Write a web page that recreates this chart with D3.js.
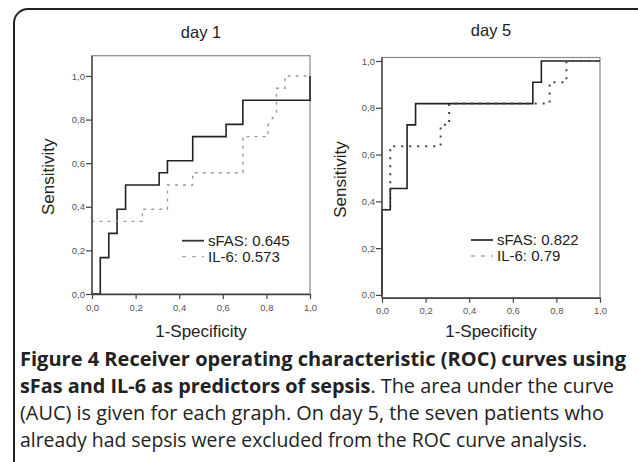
<!DOCTYPE html>
<html><head><meta charset="utf-8">
<script src="https://cdn.jsdelivr.net/npm/d3@7"></script>
<style>body{margin:0;background:#fff}svg{display:block}</style>
</head><body>
<svg id="c" width="638" height="462"></svg>
<script>
// ---- data ----
const xTicks = [0, 0.2, 0.4, 0.6, 0.8, 1.0];
const yTicks = [0, 0.2, 0.4, 0.6, 0.8, 1.0];
const panelTitles = ["day 1", "day 5"];
const seriesNames = ["sFAS", "IL-6"];
const aucDay1 = ["0.645", "0.573"];
const aucDay5 = ["0.822", "0.79"];
const xLabel = "1-Specificity";
const yLabel = "Sensitivity";

const day1SfasFpr = [0, 0.038, 0.038, 0.077, 0.077, 0.115, 0.115, 0.154, 0.154, 0.308, 0.308, 0.346, 0.346, 0.462, 0.462, 0.615, 0.615, 0.692, 0.692, 1, 1];
const day1SfasTpr = [0, 0, 0.167, 0.167, 0.278, 0.278, 0.389, 0.389, 0.5, 0.5, 0.556, 0.556, 0.611, 0.611, 0.722, 0.722, 0.778, 0.778, 0.889, 0.889, 1];
const day1Il6Fpr = [0, 0, 0.231, 0.231, 0.346, 0.346, 0.462, 0.462, 0.692, 0.692, 0.808, 0.808, 0.846, 0.846, 0.885, 0.885, 1];
const day1Il6Tpr = [0, 0.333, 0.333, 0.389, 0.389, 0.5, 0.5, 0.556, 0.556, 0.722, 0.722, 0.778, 0.833, 0.944, 0.944, 1, 1];
const day5SfasFpr = [0, 0, 0.038, 0.038, 0.115, 0.115, 0.154, 0.154, 0.692, 0.692, 0.731, 0.731, 1];
const day5SfasTpr = [0, 0.364, 0.364, 0.455, 0.455, 0.727, 0.727, 0.818, 0.818, 0.909, 0.909, 1, 1];
const day5Il6Fpr = [0, 0, 0.038, 0.038, 0.269, 0.269, 0.308, 0.308, 0.769, 0.769, 0.846, 0.846, 1];
const day5Il6Tpr = [0, 0.364, 0.364, 0.636, 0.636, 0.727, 0.727, 0.818, 0.818, 0.909, 0.909, 1, 1];

const captionLines = [
  [{t: "Figure 4 Receiver operating characteristic (ROC) curves using", b: true}],
  [{t: "sFas and IL-6 as predictors of sepsis", b: true}, {t: ". The area under the curve", b: false}],
  [{t: "(AUC) is given for each graph. On day 5, the seven patients who", b: false}],
  [{t: "already had sepsis were excluded from the ROC curve analysis.", b: false}]
];

// ---- layout ----
const svg = d3.select("#c");
const FONT = "'Liberation Sans', Arial, sans-serif";
const CAPFONT = "'Open Sans', 'Noto Sans', sans-serif";
const captionWidths = [606, 594, 584, 567];

svg.append("rect").attr("x", 14).attr("y", 9).attr("width", 640).attr("height", 520)
  .attr("rx", 14).attr("fill", "none").attr("stroke", "#222").attr("stroke-width", 2);

const panels = [
  {left: 92, right: 310, top: 55.7, bottom: 294, yDom: [0, 1.093], titleY: 37.5,
   yLabX: 54, tickLabY: 311, auc: aucDay1,
   series: [
     {fpr: day1SfasFpr, tpr: day1SfasTpr, stroke: "#222", w: 1.6, dash: null},
     {fpr: day1Il6Fpr, tpr: day1Il6Tpr, stroke: "#9a9a9a", w: 1.4, dash: "3,5"}
   ], legX: 182, legY: 240.7},
  {left: 382, right: 600, top: 57.5, bottom: 297.7, yDom: [-0.012, 1.015], titleY: 36,
   yLabX: 346, tickLabY: 314, auc: aucDay5,
   series: [
     {fpr: day5SfasFpr, tpr: day5SfasTpr, stroke: "#222", w: 1.6, dash: null},
     {fpr: day5Il6Fpr, tpr: day5Il6Tpr, stroke: "#444", w: 2, dash: "2,6"}
   ], legX: 471, legY: 240}
];

const fmt = v => d3.format(".1f")(v).replace(".", ",");

panels.forEach((p, i) => {
  const x = d3.scaleLinear().domain([0, 1]).range([p.left, p.right]);
  const y = d3.scaleLinear().domain(p.yDom).range([p.bottom, p.top]);
  const g = svg.append("g");

  g.append("rect").attr("x", p.left).attr("y", p.top)
    .attr("width", p.right - p.left).attr("height", p.bottom - p.top)
    .attr("fill", "none").attr("stroke", "#8a8a8a").attr("stroke-width", 1.2);

  p.series.forEach(s => {
    const pts = s.fpr.map((f, k) => [f, s.tpr[k]]);
    g.append("path").datum(pts)
      .attr("d", d3.line().x(d => x(d[0])).y(d => y(d[1])))
      .attr("fill", "none").attr("stroke", s.stroke).attr("stroke-width", s.w)
      .attr("stroke-dasharray", s.dash);
  });

  const ax = g.append("g").attr("transform", `translate(0,${p.bottom})`)
    .call(d3.axisBottom(x).tickValues(xTicks).tickFormat(fmt).tickSize(5).tickSizeOuter(0));
  const ay = g.append("g").attr("transform", `translate(${p.left},0)`)
    .call(d3.axisLeft(y).tickValues(yTicks).tickFormat(fmt).tickSize(6).tickSizeOuter(0));
  [ax, ay].forEach(a => {
    a.select(".domain").attr("stroke", "#444").attr("stroke-width", 1.4);
    a.selectAll(".tick line").attr("stroke", "#444").attr("stroke-width", 1.2);
    a.selectAll(".tick text").attr("fill", "#555").attr("font-family", FONT).attr("font-size", 9.5);
  });
  ax.selectAll(".tick text").attr("dy", null).attr("y", p.tickLabY - p.bottom);
  ay.selectAll(".tick text").attr("x", -7);
  ay.select(".domain").attr("d", `M0,${p.bottom}V${p.top}`);

  g.append("text").attr("x", (p.left + p.right) / 2).attr("y", p.titleY)
    .attr("text-anchor", "middle").attr("font-family", FONT).attr("font-size", 16.5)
    .attr("fill", "#222").text(panelTitles[i]);
  g.append("text").attr("x", (p.left + p.right) / 2).attr("y", 337)
    .attr("text-anchor", "middle").attr("font-family", FONT).attr("font-size", 17)
    .attr("fill", "#222").text(xLabel);
  g.append("text").attr("transform", `translate(${p.yLabX},${(p.top + p.bottom) / 2 + 2}) rotate(-90)`)
    .attr("text-anchor", "middle").attr("font-family", FONT).attr("font-size", 17)
    .attr("fill", "#222").text(yLabel);

  p.series.forEach((s, k) => {
    const ly = p.legY + k * 16;
    g.append("line").attr("x1", p.legX).attr("x2", p.legX + 22).attr("y1", ly).attr("y2", ly)
      .attr("stroke", k === 0 ? "#333" : "#aaa").attr("stroke-width", k === 0 ? 1.8 : 1.3)
      .attr("stroke-dasharray", k === 0 ? null : "4,6");
    g.append("text").attr("x", p.legX + 26).attr("y", ly).attr("dy", "0.35em")
      .attr("font-family", FONT).attr("font-size", 15).attr("fill", "#222")
      .text(`${seriesNames[k]}: ${p.auc[k]}`);
  });
});

captionLines.forEach((line, i) => {
  const t = svg.append("text").attr("x", 20).attr("y", 365.5 + i * 27.3)
    .attr("font-family", CAPFONT).attr("font-size", 19.6).attr("fill", "#222")
    .attr("textLength", captionWidths[i]).attr("lengthAdjust", "spacingAndGlyphs");
  line.forEach(seg => t.append("tspan").attr("font-weight", seg.b ? "bold" : "normal").text(seg.t));
});
</script>
</body></html>
